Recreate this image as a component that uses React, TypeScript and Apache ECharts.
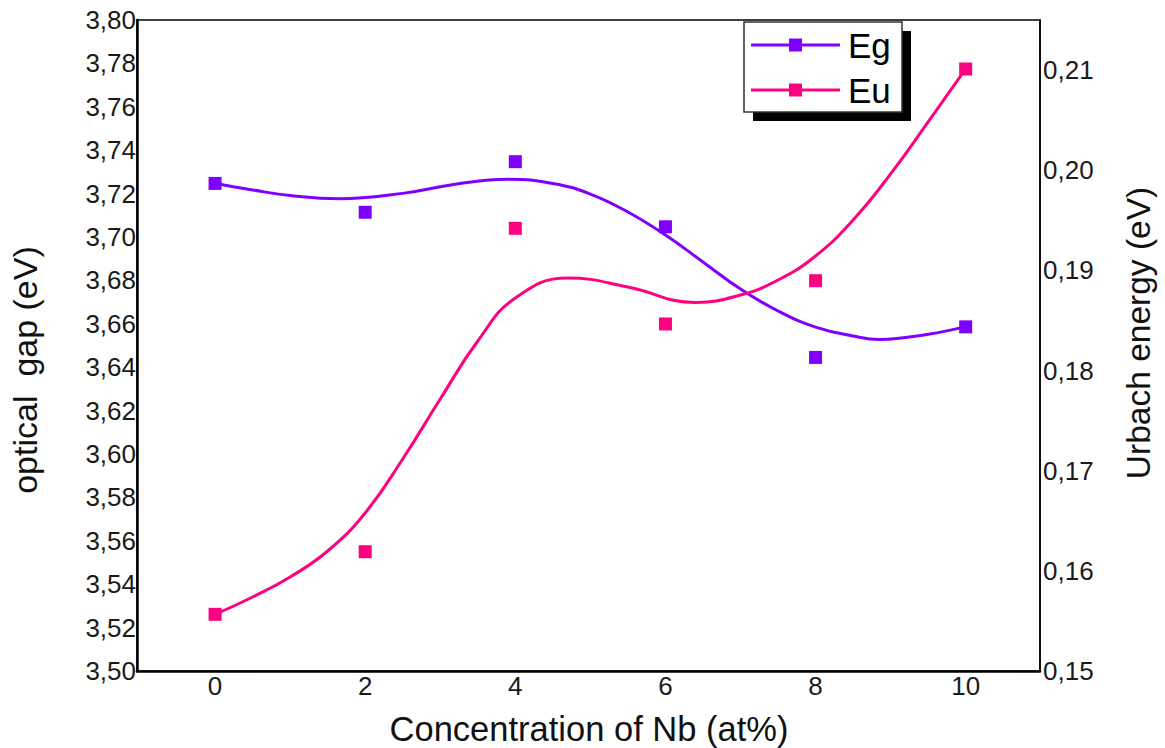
import React, { useEffect, useRef } from "react";
import * as echarts from "echarts";

const xTicks = [0, 2, 4, 6, 8, 10];
const concentrations = [0, 2, 4, 6, 8, 10];
const egValues = [3.7247, 3.7114, 3.7347, 3.7047, 3.6445, 3.6586];
const euValues = [0.15566, 0.16191, 0.1942, 0.18465, 0.18897, 0.21011];

const egFitX = [0, 0.5, 1, 1.65, 2.5, 3.2, 3.9, 4.5, 5, 5.5, 6, 6.5, 7, 7.5, 8, 8.5, 8.85, 9.5, 10];
const egFitY = [3.7248, 3.7217, 3.7191, 3.7176, 3.7201, 3.7243, 3.7266, 3.7247, 3.7198, 3.7115, 3.7009, 3.6885, 3.676, 3.6659, 3.6585, 3.6544, 3.6528, 3.6552, 3.6587];
const euFitX = [0, 0.5, 1, 1.5, 2, 2.5, 3, 3.5, 4, 4.7, 5.5, 6.4, 7, 7.5, 8, 8.5, 9, 9.5, 10];
const euFitY = [0.15566, 0.15739, 0.15939, 0.16198, 0.16578, 0.17117, 0.17716, 0.18295, 0.18724, 0.18924, 0.18834, 0.1868, 0.18754, 0.18904, 0.19144, 0.19503, 0.19963, 0.20482, 0.21011];

const EG_COLOR = "#8000FF";
const EU_COLOR = "#FF0080";
const FONT = "'Liberation Sans', Arial, sans-serif";

export default function App() {
  const ref = useRef<HTMLDivElement>(null);

  useEffect(() => {
    document.body.style.margin = "0";
    if (!ref.current) return;
    const chart = echarts.init(ref.current, undefined, { renderer: "svg" });

    const zip = (xs: number[], ys: number[]) => xs.map((x, i) => [x, ys[i]]);
    const comma = (v: number) => v.toFixed(2).replace(".", ",");

    const legendItem = (y: number, color: string, label: string) => [
      {
        type: "line",
        z: 20,
        shape: { x1: 751, y1: y, x2: 840, y2: y },
        style: { stroke: color, lineWidth: 3 },
      },
      {
        type: "rect",
        z: 21,
        shape: { x: 789, y: y - 6.5, width: 13, height: 13 },
        style: { fill: color },
      },
      {
        type: "text",
        z: 21,
        x: 848,
        y: y,
        style: {
          text: label,
          font: `35px ${FONT}`,
          fill: "#000",
          textAlign: "left",
          textVerticalAlign: "middle",
        },
      },
    ];

    chart.setOption({
      animation: false,
      backgroundColor: "#fff",
      textStyle: { fontFamily: FONT },
      grid: {
        left: 137,
        right: 125,
        top: 20,
        bottom: 77,
        show: true,
        borderColor: "#000",
        borderWidth: 1.5,
      },
      xAxis: {
        type: "value",
        min: -1.04,
        max: 10.99,
        axisLine: { show: true, onZero: false, lineStyle: { color: "#000", width: 2.5 } },
        axisTick: { show: false },
        splitLine: { show: false },
        axisLabel: {
          customValues: xTicks,
          color: "#1a1a1a",
          fontSize: 26,
          fontFamily: FONT,
          margin: 2,
          formatter: (v: number) => String(v),
        },
      },
      yAxis: [
        {
          type: "value",
          min: 3.5,
          max: 3.8,
          interval: 0.02,
          position: "left",
          axisLine: { show: true, onZero: false, lineStyle: { color: "#000", width: 2.5 } },
          axisTick: { show: false },
          splitLine: { show: false },
          axisLabel: {
            color: "#1a1a1a",
            fontSize: 26,
            fontFamily: FONT,
            margin: 1,
            formatter: (v: number) => comma(v),
          },
        },
        {
          type: "value",
          min: 0.15,
          max: 0.215,
          interval: 0.01,
          position: "right",
          axisLine: { show: true, onZero: false, lineStyle: { color: "#000", width: 1.5 } },
          axisTick: { show: false },
          splitLine: { show: false },
          axisLabel: {
            color: "#1a1a1a",
            fontSize: 26,
            fontFamily: FONT,
            margin: 3,
            formatter: (v: number) =>
              Math.abs(v * 100 - Math.round(v * 100)) < 1e-6 ? comma(v) : "",
          },
        },
      ],
      series: [
        {
          name: "Eg fit",
          type: "line",
          yAxisIndex: 0,
          data: zip(egFitX, egFitY),
          smooth: 0.45,
          showSymbol: false,
          symbol: "none",
          lineStyle: { color: EG_COLOR, width: 3 },
          z: 3,
        },
        {
          name: "Eu fit",
          type: "line",
          yAxisIndex: 1,
          data: zip(euFitX, euFitY),
          smooth: 0.45,
          showSymbol: false,
          symbol: "none",
          lineStyle: { color: EU_COLOR, width: 3 },
          z: 3,
        },
        {
          name: "Eg",
          type: "scatter",
          yAxisIndex: 0,
          data: zip(concentrations, egValues),
          symbol: "rect",
          symbolSize: 13,
          itemStyle: { color: EG_COLOR, opacity: 1 },
          z: 4,
        },
        {
          name: "Eu",
          type: "scatter",
          yAxisIndex: 1,
          data: zip(concentrations, euValues),
          symbol: "rect",
          symbolSize: 13,
          itemStyle: { color: EU_COLOR, opacity: 1 },
          z: 4,
        },
      ],
      graphic: [
        {
          type: "rect",
          shape: { x: 753, y: 31, width: 158, height: 90 },
          style: { fill: "#000" },
          z: 10,
        },
        {
          type: "rect",
          shape: { x: 744, y: 22, width: 158, height: 90 },
          style: { fill: "#fff", stroke: "#333", lineWidth: 1.5 },
          z: 11,
        },
        ...legendItem(45, EG_COLOR, "Eg"),
        ...legendItem(90, EU_COLOR, "Eu"),
        {
          type: "text",
          x: 589,
          y: 729,
          style: {
            text: "Concentration of Nb (at%)",
            font: `34.5px ${FONT}`,
            fill: "#111",
            textAlign: "center",
            textVerticalAlign: "middle",
          },
        },
        {
          type: "text",
          x: 25,
          y: 370,
          rotation: Math.PI / 2,
          style: {
            text: "optical  gap (eV)",
            font: `34px ${FONT}`,
            fill: "#111",
            textAlign: "center",
            textVerticalAlign: "middle",
          },
        },
        {
          type: "text",
          x: 1138,
          y: 333,
          rotation: Math.PI / 2,
          style: {
            text: "Urbach energy (eV)",
            font: `33.5px ${FONT}`,
            fill: "#111",
            textAlign: "center",
            textVerticalAlign: "middle",
          },
        },
      ],
    });

    return () => chart.dispose();
  }, []);

  return <div ref={ref} style={{ width: 1165, height: 748 }} />;
}
